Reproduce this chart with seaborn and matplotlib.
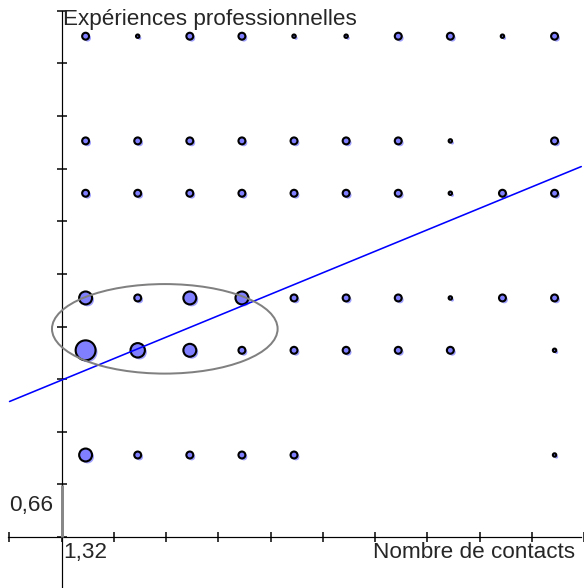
import numpy as np
import pandas as pd
import matplotlib
matplotlib.use("Agg")
import matplotlib.pyplot as plt
import matplotlib.patheffects as pe
from matplotlib.patches import Ellipse
import seaborn as sns

# ---- data ----
contacts = [1, 2, 3, 4, 5, 6, 7, 8, 9, 10]          # Nombre de contacts
experience = [9, 7, 6, 4, 3, 1]                     # Expériences professionnelles
counts_y9 = [2, 1, 2, 2, 1, 1, 2, 2, 1, 2]
counts_y7 = [2, 2, 2, 2, 2, 2, 2, 1, 0, 2]
counts_y6 = [2, 2, 2, 2, 2, 2, 2, 1, 2, 2]
counts_y4 = [4, 2, 4, 4, 2, 2, 2, 1, 2, 2]
counts_y3 = [7, 5, 4, 2, 2, 2, 2, 2, 0, 1]
counts_y1 = [4, 2, 2, 2, 2, 0, 0, 0, 0, 1]
reg_intercept = 2.21
reg_slope = 0.409
ellipse_center = (2.52, 3.41)
ellipse_w, ellipse_h = 4.33, 1.71
axis_cross = (0.54, -0.566)
x_label_text = "1,32"
y_label_text = "0,66"
x_title = "Nombre de contacts"
y_title = "Expériences professionnelles"

rows = [counts_y9, counts_y7, counts_y6, counts_y4, counts_y3, counts_y1]
records = []
for yv, row in zip(experience, rows):
    for xv, c in zip(contacts, row):
        if c > 0:
            records.append({"contacts": xv, "experience": yv, "count": c})
df = pd.DataFrame(records)

# ---- figure ----
DPI = 100
PX = 72.0 / DPI  # points per pixel
sns.set_theme(style="white")
plt.rcParams["font.family"] = ["Liberation Sans", "DejaVu Sans"]

fig = plt.figure(figsize=(5.84, 5.88), dpi=DPI)
ax = fig.add_axes([0, 0, 1, 1])
unit = 52.35
ax.set_xlim(1 - 86 / unit, 1 + (584 - 86) / unit)
ax.set_ylim(1 - (588 - 455) / unit, 1 + 455 / unit)

diam_px = {1: 5.5, 2: 9.0, 4: 15.0, 5: 16.5, 7: 22.0}
lw_px = 2.1
size_map = {k: ((d - lw_px) * PX) ** 2 for k, d in diam_px.items()}

sns.scatterplot(data=df, x="contacts", y="experience", size="count",
                sizes=size_map, color="#7f7fff", edgecolor="black",
                linewidth=lw_px * PX, legend=False, ax=ax, zorder=3)
coll = ax.collections[-1]
coll.set_path_effects([pe.SimplePatchShadow(offset=(1.4, -1.4),
                                            shadow_rgbFace=(0.5, 0.5, 1.0),
                                            alpha=0.75),
                       pe.Normal()])

x0, y0 = axis_cross
xmin, xmax = ax.get_xlim()
ymin, ymax = ax.get_ylim()

# regression line (starts at left end of x axis) and ellipse
lx = np.array([x0 - 1, xmax])
ax.plot(lx, reg_intercept + reg_slope * lx, color="#0000ff",
        lw=1.6 * PX, zorder=4)
ax.add_patch(Ellipse(ellipse_center, ellipse_w, ellipse_h, fill=False,
                     edgecolor="#808080", lw=2.0 * PX, zorder=4))

# axes crossing
for s in ["top", "right"]:
    ax.spines[s].set_visible(False)
ax.spines["left"].set_position(("data", x0))
ax.spines["bottom"].set_position(("data", y0))
ax.spines["bottom"].set_bounds(x0 - 1.03, xmax)
ax.spines["left"].set_bounds(ymin, y0 + 10.05)
for s in ["left", "bottom"]:
    ax.spines[s].set_color("black")
    ax.spines[s].set_linewidth(1.2 * PX)
xt = [x0 + 1.0025 * k for k in range(-1, 11)]
yt = [y0 + 1.005 * k for k in range(0, 11)]
ax.set_xticks(xt)
ax.set_yticks(yt)
ax.tick_params(axis="both", direction="inout", length=10 * PX,
               width=1.5 * PX, color="black",
               labelbottom=False, labelleft=False, bottom=True, left=True)
ax.set_xlabel("")
ax.set_ylabel("")
ax.grid(False)

# axis break segment on y axis
ax.plot([x0, x0], [y0, y0 + 1], color="#888888", lw=3 * PX,
        solid_capstyle="butt", zorder=5)

fs = 22.5 * PX
ax.text(x0 + 0.03, y0 - 0.1, x_label_text, ha="left", va="top", fontsize=fs)
ax.text(x0 - 0.17, y0 + 0.6, y_label_text, ha="right", va="center", fontsize=fs)
ax.text(xmax - 0.12, y0 - 0.1, x_title, ha="right", va="top", fontsize=fs)
ax.text(x0 + 0.03, ymax - 0.17, y_title, ha="left", va="top", fontsize=fs)

fig.savefig("out.png", dpi=DPI)
